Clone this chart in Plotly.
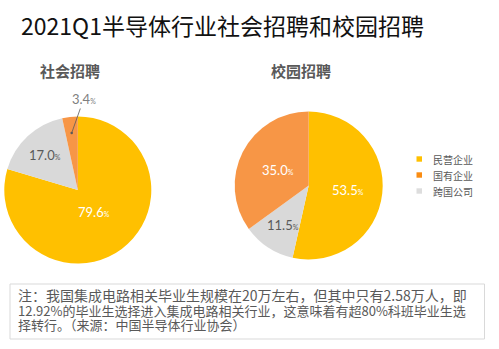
import math
import plotly.graph_objects as go

W, H = 499, 349

# ---- data ----
title = "2021Q1半导体行业社会招聘和校园招聘"
pie_titles = ["社会招聘", "校园招聘"]
legend_labels = ["民营企业", "国有企业", "跨国公司"]
slice_labels = ["民营企业", "跨国公司", "国有企业"]   # clockwise order from 12 o'clock
social_values = [79.6, 17.0, 3.4]
campus_values = [53.5, 11.5, 35.0]
note_lines = [
    "注：我国集成电路相关毕业生规模在20万左右，但其中只有2.58万人，即",
    "12.92%的毕业生选择进入集成电路相关行业，这意味着有超80%科班毕业生选",
    "择转行。（来源：中国半导体行业协会）",
]

# ---- style ----
colors = {"民营企业": "#FFC000", "国有企业": "#F79646", "跨国公司": "#D9D9D9"}
legend_colors = {"民营企业": "#FFC000", "国有企业": "#FA8C12", "跨国公司": "#DDDDDD"}
text_grey = "#595959"
cjk = "Noto Sans CJK SC"
numfont = "Lato"
note_sizes = [14, 13, 13]
note_line_gap = 14.5

# pie geometry in pixels: (cx, cy, r)
pies = [
    dict(values=social_values, cx=77.8, cy=190.0, r=73.5,
         rfrac=[0.38, 0.65, 0.78], title_xy=(70, 70)),
    dict(values=campus_values, cx=308.7, cy=185.5, r=74.0,
         rfrac=[0.53, 0.64, 0.47], title_xy=(301, 70)),
]


def px2x(px):
    return px / W


def py2y(py):
    return 1 - py / H


fig = go.Figure()
annotations = []
shapes = []

for i, p in enumerate(pies):
    cx, cy, r = p["cx"], p["cy"], p["r"]
    fig.add_trace(go.Pie(
        labels=slice_labels,
        values=p["values"],
        sort=False,
        direction="clockwise",
        rotation=0,
        marker=dict(colors=[colors[l] for l in slice_labels], line=dict(width=0)),
        textinfo="none",
        hoverinfo="label+percent",
        showlegend=False,
        domain=dict(x=[px2x(cx - r), px2x(cx + r)], y=[py2y(cy + r), py2y(cy - r)]),
    ))
    # slice labels computed from data
    total = sum(p["values"])
    cum = 0.0
    for j, (lab, v) in enumerate(zip(slice_labels, p["values"])):
        mid = (cum + v / 2) / total * 2 * math.pi
        cum += v
        rr = p["rfrac"][j] * r
        lx = cx + rr * math.sin(mid)
        ly = cy - rr * math.cos(mid)
        txt = f"{v:.1f}<span style='font-size:7px'>%</span>"
        col = text_grey if lab == "跨国公司" else "white"
        if v < 5:
            annotations.append(dict(
                x=px2x(lx), y=py2y(ly), xref="paper", yref="paper",
                text=txt, showarrow=True, arrowhead=6, arrowsize=0.8,
                arrowwidth=0.8, arrowcolor=text_grey, ax=12, ay=-34,
                font=dict(family=numfont, size=13, color="#7F7F7F"),
            ))
        else:
            annotations.append(dict(
                x=px2x(lx), y=py2y(ly), xref="paper", yref="paper",
                text=txt, showarrow=False, xanchor="center", yanchor="middle",
                font=dict(family=numfont, size=13, color=col),
            ))
    tx, ty = p["title_xy"]
    annotations.append(dict(
        x=px2x(tx), y=py2y(ty), xref="paper", yref="paper",
        text=f"<b>{pie_titles[i]}</b>", showarrow=False,
        xanchor="center", yanchor="middle",
        font=dict(family=cjk, size=15, color=text_grey),
    ))

# legend (manual)
for k, lab in enumerate(legend_labels):
    yc = 159 + 16 * k
    shapes.append(dict(type="rect", xref="paper", yref="paper",
                       x0=px2x(416.5), x1=px2x(422), y0=py2y(yc + 2.7), y1=py2y(yc - 2.7),
                       fillcolor=legend_colors[lab], line=dict(width=0)))
    annotations.append(dict(
        x=px2x(431), y=py2y(yc), xref="paper", yref="paper",
        text=lab, showarrow=False, xanchor="left", yanchor="middle",
        font=dict(family=cjk, size=10, color=text_grey),
    ))

# title
annotations.append(dict(
    x=px2x(19), y=py2y(25), xref="paper", yref="paper",
    text=title, showarrow=False, xanchor="left", yanchor="middle",
    font=dict(family=cjk, size=23, color="#111111"),
))

# note box
shapes.append(dict(type="rect", xref="paper", yref="paper",
                   x0=px2x(10), x1=px2x(484.5), y0=py2y(339), y1=py2y(284),
                   line=dict(color="#D9D9D9", width=1), fillcolor="rgba(0,0,0,0)"))
note_text = "<br>".join(
    f"<span style='font-size:{s}px'>{line}</span>" for line, s in zip(note_lines, note_sizes)
)
annotations.append(dict(
    x=px2x(17), y=py2y(309), xref="paper", yref="paper",
    text=note_text, showarrow=False, xanchor="left", yanchor="middle", align="left",
    borderpad=0,
    font=dict(family=cjk, size=note_line_gap / 1.3, color=text_grey),
))

fig.update_layout(
    width=W, height=H,
    margin=dict(l=0, r=0, t=0, b=0),
    paper_bgcolor="white",
    plot_bgcolor="white",
    annotations=annotations,
    shapes=shapes,
)

fig.write_html("out.html")
